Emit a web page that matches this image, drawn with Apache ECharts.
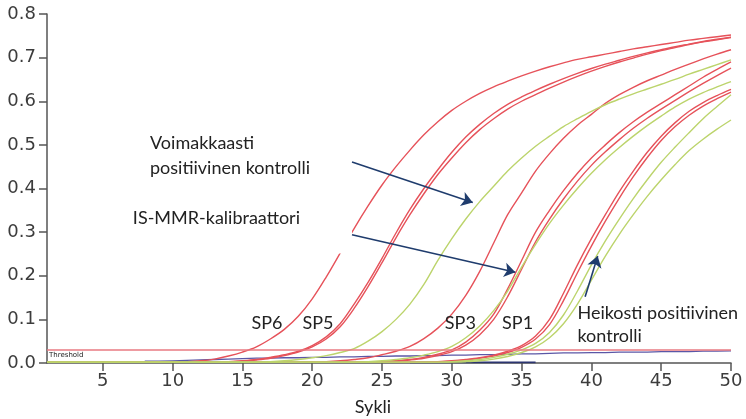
<!DOCTYPE html>
<html>
<head>
<meta charset="utf-8">
<script src="https://cdn.jsdelivr.net/npm/echarts@6/dist/echarts.min.js"></script>
<style>
  html, body { margin: 0; padding: 0; background: #fff; }
  #chart { width: 746px; height: 419px; }
</style>
</head>
<body>
<div id="chart"></div>
<script>
// PCR cycle numbers (x) and fluorescence readings (y) per cycle
const cycles = [1,2,3,4,5,6,7,8,9,10,11,12,13,14,15,16,17,18,19,20,21,22,23,24,25,
                26,27,28,29,30,31,32,33,34,35,36,37,38,39,40,41,42,43,44,45,46,47,48,49,50];
const xTickValues = [5,10,15,20,25,30,35,40,45,50];
const thresholdValue = 0.03;

// IS-MMR calibrator standards
const sp6 = [0.002,0.002,0.002,0.002,0.002,0.002,0.002,0.002,0.002,0.002,
             0.003,0.005,0.009,0.016,0.025,0.037,0.055,0.077,0.107,0.147,
             0.197,0.252,0.308,0.36,0.408,0.45,0.488,0.523,0.553,0.579,
             0.6,0.618,0.633,0.646,0.658,0.669,0.679,0.688,0.696,0.702,
             0.708,0.714,0.72,0.725,0.73,0.735,0.74,0.744,0.748,0.752];
const sp5a = [0.002,0.002,0.002,0.002,0.002,0.002,0.002,0.002,0.002,0.002,
              0.002,0.002,0.002,0.003,0.005,0.008,0.013,0.019,0.027,0.04,
              0.06,0.09,0.135,0.185,0.24,0.298,0.352,0.4,0.443,0.483,
              0.518,0.547,0.572,0.593,0.61,0.625,0.639,0.652,0.664,0.675,
              0.685,0.694,0.703,0.711,0.718,0.725,0.731,0.737,0.742,0.747];
const sp5b = [0.002,0.002,0.002,0.002,0.002,0.002,0.002,0.002,0.002,0.002,
              0.002,0.002,0.002,0.003,0.004,0.007,0.011,0.017,0.025,0.037,
              0.055,0.083,0.125,0.175,0.23,0.287,0.34,0.388,0.432,0.47,
              0.505,0.535,0.56,0.582,0.6,0.615,0.63,0.644,0.657,0.669,
              0.68,0.69,0.699,0.708,0.716,0.723,0.73,0.736,0.741,0.746];
const sp4 = [0.002,0.002,0.002,0.002,0.002,0.002,0.002,0.002,0.002,0.002,
             0.002,0.002,0.002,0.002,0.002,0.002,0.002,0.002,0.002,0.002,
             0.003,0.005,0.008,0.012,0.019,0.027,0.038,0.056,0.08,0.112,
             0.155,0.21,0.275,0.34,0.39,0.44,0.48,0.515,0.545,0.57,
             0.595,0.615,0.632,0.647,0.66,0.673,0.685,0.697,0.708,0.718];
const sp3a = [0.002,0.002,0.002,0.002,0.002,0.002,0.002,0.002,0.002,0.002,
              0.002,0.002,0.002,0.002,0.002,0.002,0.002,0.002,0.002,0.002,
              0.002,0.002,0.002,0.002,0.003,0.005,0.008,0.013,0.02,0.03,
              0.048,0.075,0.112,0.17,0.235,0.3,0.35,0.395,0.435,0.47,
              0.5,0.528,0.553,0.575,0.595,0.615,0.635,0.655,0.673,0.69];
const sp3b = [0.002,0.002,0.002,0.002,0.002,0.002,0.002,0.002,0.002,0.002,
              0.002,0.002,0.002,0.002,0.002,0.002,0.002,0.002,0.002,0.002,
              0.002,0.002,0.002,0.002,0.003,0.004,0.007,0.011,0.017,0.026,
              0.041,0.065,0.1,0.152,0.215,0.278,0.33,0.376,0.417,0.453,
              0.484,0.512,0.538,0.561,0.582,0.602,0.622,0.641,0.659,0.676];
const sp1a = [0.002,0.002,0.002,0.002,0.002,0.002,0.002,0.002,0.002,0.002,
              0.002,0.002,0.002,0.002,0.002,0.002,0.002,0.002,0.002,0.002,
              0.002,0.002,0.002,0.002,0.002,0.002,0.002,0.002,0.003,0.005,
              0.008,0.012,0.018,0.027,0.04,0.062,0.1,0.16,0.225,0.285,
              0.34,0.393,0.44,0.483,0.52,0.551,0.577,0.597,0.613,0.627];
const sp1b = [0.002,0.002,0.002,0.002,0.002,0.002,0.002,0.002,0.002,0.002,
              0.002,0.002,0.002,0.002,0.002,0.002,0.002,0.002,0.002,0.002,
              0.002,0.002,0.002,0.002,0.002,0.002,0.002,0.002,0.003,0.004,
              0.007,0.011,0.016,0.024,0.036,0.055,0.088,0.143,0.207,0.268,
              0.325,0.378,0.427,0.471,0.51,0.542,0.568,0.589,0.606,0.621];

// Controls
const strongPositive = [0.002,0.002,0.002,0.002,0.002,0.002,0.002,0.002,0.002,0.002,
                        0.002,0.002,0.002,0.002,0.002,0.002,0.003,0.005,0.008,0.012,
                        0.017,0.024,0.033,0.05,0.072,0.1,0.135,0.18,0.235,0.285,
                        0.33,0.37,0.405,0.44,0.47,0.497,0.52,0.542,0.56,0.577,
                        0.592,0.605,0.617,0.628,0.639,0.65,0.662,0.673,0.684,0.695];
const calibratorCtrl = [0.002,0.002,0.002,0.002,0.002,0.002,0.002,0.002,0.002,0.002,
                        0.002,0.002,0.002,0.002,0.002,0.002,0.002,0.002,0.002,0.002,
                        0.002,0.002,0.002,0.003,0.005,0.008,0.012,0.018,0.026,0.038,
                        0.058,0.085,0.12,0.165,0.22,0.272,0.32,0.362,0.4,0.435,
                        0.466,0.494,0.52,0.544,0.566,0.587,0.605,0.62,0.633,0.645];
const weakPositiveA = [0.002,0.002,0.002,0.002,0.002,0.002,0.002,0.002,0.002,0.002,
                       0.002,0.002,0.002,0.002,0.002,0.002,0.002,0.002,0.002,0.002,
                       0.002,0.002,0.002,0.002,0.002,0.002,0.002,0.002,0.002,0.003,
                       0.005,0.008,0.013,0.02,0.03,0.045,0.07,0.11,0.165,0.225,
                       0.28,0.33,0.377,0.42,0.46,0.495,0.528,0.56,0.588,0.615];
const weakPositiveB = [0.002,0.002,0.002,0.002,0.002,0.002,0.002,0.002,0.002,0.002,
                       0.002,0.002,0.002,0.002,0.002,0.002,0.002,0.002,0.002,0.002,
                       0.002,0.002,0.002,0.002,0.002,0.002,0.002,0.002,0.002,0.002,
                       0.003,0.005,0.009,0.015,0.024,0.037,0.058,0.09,0.135,0.19,
                       0.245,0.295,0.34,0.382,0.42,0.455,0.487,0.513,0.536,0.557];

// Negative / no-template wells drifting along the baseline
const baselineDrift = [null,null,null,null,null,null,null,0.004,0.005,0.006,
                       0.007,0.008,0.009,0.01,0.011,0.011,0.012,0.012,0.013,0.013,
                       0.014,0.014,0.015,0.015,0.016,0.016,0.017,0.017,0.018,0.018,
                       0.019,0.019,0.02,0.021,0.021,0.022,0.023,0.023,0.024,0.024,
                       0.025,0.025,0.025,0.026,0.026,0.026,0.027,0.027,0.028,0.028];
const baselineFlat = [null,null,null,null,null,null,null,null,null,null,
                      null,null,null,null,null,null,null,null,null,null,
                      null,null,null,null,null,null,0.0015,0.0015,0.0015,0.0015,
                      0.0015,0.0015,0.0015,0.0015,0.0015,0.0015,null,null,null,null,
                      null,null,null,null,null,null,null,null,null,null];

const RED = '#e6525a';
const GREEN = '#bcd46c';
const ARROW = '#1f3c6d';

function pairs(values) {
  return cycles.map((c, i) => [c, values[i]]);
}

function curve(name, values, color) {
  return {
    name: name,
    type: 'line',
    data: pairs(values),
    smooth: 0.35,
    showSymbol: false,
    silent: true,
    lineStyle: { color: color, width: 1.4 },
    z: 3
  };
}

const chart = echarts.init(document.getElementById('chart'), null, { renderer: 'canvas' });

const option = {
  animation: false,
  backgroundColor: '#ffffff',
  grid: { left: 47, right: 15, top: 14, bottom: 56 },
  xAxis: {
    type: 'value',
    min: 1,
    max: 50,
    splitLine: { show: false },
    axisLine: { lineStyle: { color: '#555', width: 1.5 } },
    axisTick: { customValues: xTickValues, length: 8, lineStyle: { color: '#555', width: 1.5 } },
    axisLabel: {
      customValues: xTickValues,
      margin: 9,
      color: '#3c3c3c',
      fontFamily: 'DejaVu Sans',
      fontSize: 18
    }
  },
  yAxis: {
    type: 'value',
    min: 0,
    max: 0.8,
    interval: 0.1,
    splitLine: { show: false },
    axisLine: { show: true, lineStyle: { color: '#555', width: 1.5 } },
    axisTick: { show: true, length: 8, lineStyle: { color: '#555', width: 1.5 } },
    axisLabel: {
      margin: 11,
      color: '#3c3c3c',
      fontFamily: 'DejaVu Sans',
      fontSize: 18,
      formatter: v => v.toFixed(1)
    }
  },
  series: [
    {
      name: 'baseline drift',
      type: 'line',
      data: pairs(baselineDrift),
      showSymbol: false,
      silent: true,
      step: 'end',
      lineStyle: { color: '#5b57a6', width: 1.3 },
      z: 2,
      markLine: {
        silent: true,
        symbol: ['none', 'none'],
        lineStyle: { color: '#e97a82', width: 1.6, type: 'solid' },
        label: {
          show: true,
          formatter: 'Threshold',
          position: 'insideStartBottom',
          distance: [2, 2],
          color: '#222',
          fontFamily: 'DejaVu Sans',
          fontSize: 7
        },
        data: [{ yAxis: thresholdValue }]
      }
    },
    {
      name: 'baseline flat',
      type: 'line',
      data: pairs(baselineFlat),
      showSymbol: false,
      silent: true,
      lineStyle: { color: '#2c3570', width: 1.6 },
      z: 2
    },
    curve('SP1 a', sp1a, RED),
    curve('SP1 b', sp1b, RED),
    curve('SP3 a', sp3a, RED),
    curve('SP3 b', sp3b, RED),
    curve('SP4', sp4, RED),
    curve('SP5 a', sp5a, RED),
    curve('SP5 b', sp5b, RED),
    curve('SP6', sp6, RED),
    curve('Voimakkaasti positiivinen kontrolli', strongPositive, GREEN),
    curve('IS-MMR-kalibraattori', calibratorCtrl, GREEN),
    curve('Heikosti positiivinen kontrolli A', weakPositiveA, GREEN),
    curve('Heikosti positiivinen kontrolli B', weakPositiveB, GREEN),
    {
      name: 'pointers',
      type: 'line',
      data: pairs(sp6).slice(0, 1),
      showSymbol: false,
      lineStyle: { opacity: 0 },
      silent: true,
      z: 6,
      markLine: {
        silent: true,
        symbol: ['none', 'arrow'],
        symbolSize: 11,
        lineStyle: { color: ARROW, width: 1.6, type: 'solid' },
        itemStyle: { color: ARROW },
        label: { show: false },
        data: [
          [{ coord: [22.85, 0.461] }, { coord: [31.5, 0.368] }],
          [{ coord: [22.85, 0.294] }, { coord: [34.55, 0.208] }],
          [{ coord: [39.55, 0.152] }, { coord: [40.45, 0.245] }]
        ]
      }
    }
  ]
};

chart.setOption(option);

// Annotation texts, anchored in data coordinates [cycle, value]
const notes = [
  { text: 'Voimakkaasti', at: [8.38, 0.504], size: 18 },
  { text: 'positiivinen kontrolli', at: [8.38, 0.447], size: 18 },
  { text: 'IS-MMR-kalibraattori', at: [7.15, 0.332], size: 18 },
  { text: 'SP6', at: [15.65, 0.092], size: 18 },
  { text: 'SP5', at: [19.3, 0.092], size: 18 },
  { text: 'SP3', at: [29.5, 0.092], size: 18 },
  { text: 'SP1', at: [33.6, 0.092], size: 18 },
  { text: 'Heikosti positiivinen', at: [39.0, 0.114], size: 18 },
  { text: 'kontrolli', at: [39.0, 0.062], size: 18 }
];

const toPx = p => chart.convertToPixel({ gridIndex: 0 }, p);

// label box behind the calibrator caption clips the curves it covers
const boxTL = toPx([7.0, 0.37]);
const boxBR = toPx([22.85, 0.251]);

const graphics = [
  {
    type: 'rect',
    shape: { x: boxTL[0], y: boxTL[1], width: boxBR[0] - boxTL[0], height: boxBR[1] - boxTL[1] },
    style: { fill: '#ffffff' },
    silent: true,
    z: 4
  }
];

notes.forEach(n => {
  const p = toPx(n.at);
  graphics.push({
    type: 'text',
    x: p[0],
    y: p[1],
    silent: true,
    z: 7,
    style: {
      text: n.text,
      fill: '#222222',
      font: n.size + 'px Lato',
      textAlign: 'left',
      textVerticalAlign: 'middle'
    }
  });
});

const namePos = toPx([24.35, -0.101]);
graphics.push({
  type: 'text',
  x: namePos[0],
  y: namePos[1],
  silent: true,
  z: 7,
  style: {
    text: 'Sykli',
    fill: '#222222',
    font: '18px Lato',
    textAlign: 'center',
    textVerticalAlign: 'middle'
  }
});

chart.setOption({ graphic: graphics });
</script>
</body>
</html>
